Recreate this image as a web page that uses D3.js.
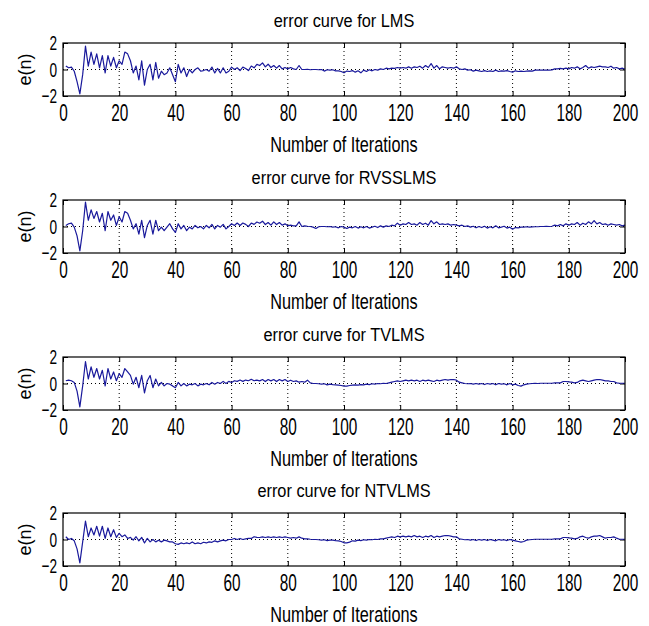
<!DOCTYPE html>
<html>
<head>
<meta charset="utf-8">
<script src="https://cdn.jsdelivr.net/npm/d3@7"></script>
<style>
  body { margin: 0; background: #fff; }
  svg { display: block; font-family: "Liberation Sans", Arial, sans-serif; }
</style>
</head>
<body>
<script>
// error values e(n), n = 1..200
var lmsErr = [0.26,0.13,0.18,-0.13,-0.92,-1.84,-0.39,1.76,0.26,1.32,0.39,1.18,0.13,1.05,-0.26,1.05,0.26,0.92,0.13,0.66,
  0.39,1.32,1.18,0.66,-0.26,0.26,-0.79,0.66,-1.18,0.0,0.39,-0.79,0.53,-0.66,-0.13,-0.39,-0.26,0.13,-0.39,-0.92,
  0.39,-0.26,0.13,-0.53,0.0,-0.26,0.0,0.13,-0.13,-0.08,0.0,-0.13,0.18,-0.26,0.08,-0.26,0.13,-0.26,-0.13,0.18,
  0.0,0.13,-0.08,0.18,0.08,-0.08,0.26,0.13,0.39,0.3,0.5,0.2,0.4,0.15,0.3,0.1,0.3,0.05,0.15,0.05,
  0.15,0.05,0.0,0.3,0.0,0.0,0.02,-0.02,0.0,0.0,-0.02,0.0,-0.12,-0.02,-0.05,-0.02,-0.1,-0.1,-0.15,-0.25,
  -0.12,-0.15,-0.08,-0.2,-0.1,-0.25,-0.05,-0.15,-0.02,-0.1,0.0,-0.05,0.05,0.0,0.1,0.05,0.1,0.08,0.15,0.1,
  0.15,0.1,0.2,0.1,0.2,0.15,0.25,0.1,0.3,0.15,0.45,0.1,0.3,0.05,0.2,0.15,0.1,0.15,0.1,0.2,
  0.05,0.0,0.05,-0.05,-0.02,-0.12,-0.05,-0.1,-0.15,-0.08,-0.15,-0.1,-0.15,-0.05,-0.15,-0.1,-0.12,-0.08,-0.15,-0.2,
  -0.1,-0.15,-0.12,-0.15,-0.12,-0.1,-0.12,-0.05,-0.05,-0.05,-0.05,-0.04,-0.04,-0.03,0.05,0.05,0.08,0.05,0.1,0.05,
  0.15,0.1,0.2,0.05,0.15,0.3,0.1,0.2,0.15,0.2,0.25,0.2,0.2,0.15,0.25,0.1,0.15,0.05,0.1,0.02];

var rvsslmsErr = [0.08,0.21,0.26,-0.05,-0.71,-1.84,-0.32,1.84,0.47,1.26,0.61,1.13,0.34,1.0,-0.32,1.13,0.47,0.87,0.08,0.74,
  0.34,1.13,1.0,0.47,-0.18,0.21,-0.58,0.47,-0.84,0.08,0.47,-0.58,0.47,-0.32,-0.05,-0.32,-0.05,0.21,-0.18,-0.45,
  0.21,-0.18,0.08,-0.32,-0.05,-0.18,0.08,-0.1,0.0,-0.18,0.08,-0.1,0.16,-0.18,0.08,-0.05,0.16,-0.18,0.0,0.21,
  0.08,0.26,0.08,0.26,0.16,0.0,0.26,0.16,0.34,0.25,0.4,0.15,0.3,0.1,0.35,0.15,0.3,0.1,0.2,0.05,
  0.1,0.05,0.05,0.35,0.0,0.05,0.02,0.0,-0.05,-0.15,-0.02,0.0,0.0,-0.02,0.0,-0.05,-0.02,-0.1,0.0,-0.05,
  -0.15,-0.05,-0.1,0.0,-0.12,-0.02,-0.1,0.0,-0.12,-0.05,0.02,-0.08,0.05,-0.05,0.05,0.0,0.1,0.05,0.25,0.1,
  0.2,0.15,0.3,0.15,0.2,0.1,0.3,0.15,0.25,0.1,0.45,0.2,0.35,0.15,0.2,0.15,0.2,0.1,0.15,0.1,
  0.05,0.1,0.0,0.05,-0.05,0.02,-0.1,0.0,-0.08,0.02,-0.12,-0.02,-0.1,0.05,-0.1,-0.05,0.02,-0.12,-0.05,-0.2,
  -0.08,-0.1,-0.05,-0.05,-0.02,-0.05,-0.03,-0.02,-0.02,0.0,0.0,0.02,0.0,0.02,0.1,0.05,0.15,0.05,0.2,0.1,
  0.2,0.15,0.3,0.1,0.25,0.15,0.35,0.2,0.45,0.2,0.3,0.15,0.2,0.1,0.2,0.15,0.1,0.15,0.05,0.1];

var tvlmsErr = [0.21,0.26,0.21,0.08,-0.58,-1.76,-0.18,1.66,0.34,1.26,0.47,1.13,0.34,1.0,-0.18,1.13,0.34,0.87,0.21,0.74,
  0.47,1.13,0.87,0.61,-0.05,0.47,-0.32,0.61,-0.71,0.21,0.61,-0.32,0.34,-0.18,0.08,-0.18,0.0,-0.05,-0.18,-0.32,
  0.08,-0.18,0.0,-0.18,-0.05,-0.1,0.0,-0.18,-0.05,-0.1,0.0,-0.1,0.08,-0.05,0.08,0.0,0.16,0.0,0.16,0.08,
  0.21,0.16,0.26,0.16,0.26,0.21,0.32,0.21,0.26,0.2,0.3,0.15,0.3,0.2,0.3,0.15,0.3,0.2,0.3,0.15,
  0.25,0.15,0.2,0.1,0.15,0.1,0.25,0.05,0.0,0.0,-0.02,-0.05,-0.02,-0.1,-0.05,-0.08,-0.1,-0.12,-0.15,-0.2,
  -0.2,-0.15,-0.12,-0.1,-0.12,-0.08,-0.1,-0.05,-0.08,-0.02,-0.05,0.0,-0.02,0.02,0.0,0.05,0.1,0.15,0.2,0.15,
  0.2,0.25,0.2,0.25,0.2,0.25,0.15,0.25,0.2,0.25,0.2,0.15,0.25,0.2,0.25,0.3,0.25,0.3,0.3,0.25,
  0.1,0.05,0.0,-0.02,0.0,-0.05,0.0,-0.05,0.0,-0.08,0.0,-0.05,0.0,-0.1,0.0,-0.05,-0.02,-0.1,0.0,-0.1,
  -0.05,-0.15,-0.2,-0.1,-0.05,-0.02,0.0,0.02,0.0,0.02,0.02,0.02,0.02,0.02,0.05,0.05,0.05,0.15,0.15,0.12,
  0.1,0.05,0.08,0.2,0.25,0.2,0.15,0.2,0.25,0.3,0.3,0.25,0.2,0.2,0.15,0.15,0.05,0.02,0.02,0.02];

var ntvlmsErr = [0.21,0.0,0.08,-0.1,-0.71,-1.76,-0.18,1.39,0.21,0.87,0.34,1.0,0.26,1.0,0.08,0.87,0.21,0.74,0.16,0.47,
  0.21,0.34,0.08,0.16,-0.05,0.21,-0.1,0.16,-0.26,0.08,-0.18,0.0,-0.18,-0.05,-0.18,-0.05,-0.1,-0.18,-0.18,-0.32,
  -0.37,-0.26,-0.32,-0.26,-0.32,-0.18,-0.32,-0.26,-0.32,-0.21,-0.26,-0.18,-0.21,-0.1,-0.18,-0.1,-0.05,-0.1,0.0,0.0,
  0.08,0.0,0.08,0.0,0.05,0.08,0.08,0.21,0.16,0.15,0.2,0.15,0.2,0.15,0.2,0.15,0.2,0.15,0.2,0.15,
  0.1,0.15,0.1,0.2,0.1,0.05,0.05,0.02,0.0,0.0,-0.02,-0.05,-0.02,-0.08,-0.05,-0.05,-0.08,-0.1,-0.15,-0.25,
  -0.25,-0.2,-0.1,-0.12,-0.05,-0.08,-0.02,-0.05,0.0,-0.02,0.02,0.0,0.05,0.05,0.1,0.15,0.2,0.15,0.25,0.2,
  0.25,0.2,0.25,0.2,0.3,0.2,0.25,0.15,0.25,0.2,0.3,0.15,0.25,0.2,0.25,0.3,0.3,0.25,0.2,0.2,
  0.05,0.02,-0.02,0.0,-0.05,0.0,-0.08,0.0,-0.05,0.0,-0.08,0.0,-0.05,-0.1,0.0,-0.05,-0.02,-0.08,0.0,-0.05,
  -0.1,-0.15,-0.2,-0.15,-0.05,-0.02,0.0,0.02,0.02,0.02,0.02,0.02,0.02,0.02,0.05,0.05,0.05,0.15,0.15,0.12,
  0.1,0.05,0.08,0.2,0.25,0.15,0.1,0.2,0.25,0.25,0.3,0.2,0.1,0.15,0.15,0.2,0.1,0.02,0.02,0.02];

var titles = ["error curve for LMS", "error curve for RVSSLMS", "error curve for TVLMS", "error curve for NTVLMS"];
var series = [lmsErr, rvsslmsErr, tvlmsErr, ntvlmsErr];
var xTicks = [0, 20, 40, 60, 80, 100, 120, 140, 160, 180, 200];
var yTicks = [-2, 0, 2];
var xLabel = "Number of Iterations";
var yLabel = "e(n)";

var w = 649, h = 626;
var left = 63, right = 625, boxH = 53;
var tops = [43, 200, 357, 513];

var svg = d3.select("body").append("svg")
  .attr("width", w)
  .attr("height", h);

var xScale = d3.scaleLinear().domain([0, 200]).range([left, right]);

series.forEach(function(vals, i) {
  var top = tops[i];
  var bottom = top + boxH;
  var yScale = d3.scaleLinear().domain([-2, 2]).range([bottom, top]);
  var g = svg.append("g");

  // dotted grid
  g.selectAll(".vgrid")
    .data(xTicks.slice(1, -1))
    .enter().append("line")
    .attr("x1", function(d) { return xScale(d); })
    .attr("x2", function(d) { return xScale(d); })
    .attr("y1", top).attr("y2", bottom)
    .attr("stroke", "#000").attr("stroke-width", 1)
    .attr("stroke-dasharray", "1,3");
  g.append("line")
    .attr("x1", left).attr("x2", right)
    .attr("y1", yScale(0)).attr("y2", yScale(0))
    .attr("stroke", "#000").attr("stroke-width", 1)
    .attr("stroke-dasharray", "1,3");

  // axes with inward ticks
  var xAxis = d3.axisBottom(xScale).tickValues(xTicks).tickSize(-5).tickPadding(8);
  var ax = g.append("g")
    .attr("transform", "translate(0," + bottom + ")")
    .call(xAxis);
  ax.select(".domain").remove();
  ax.selectAll("text")
    .attr("font-size", 24).attr("fill", "#000")
    .attr("font-family", "Liberation Sans, Arial, sans-serif")
    .attr("transform", "scale(0.64,1)");

  var topAxis = g.append("g")
    .attr("transform", "translate(0," + top + ")")
    .call(d3.axisTop(xScale).tickValues(xTicks).tickSize(-5).tickFormat(""));
  topAxis.select(".domain").remove();

  var yAxis = d3.axisLeft(yScale).tickValues(yTicks).tickSize(-5).tickPadding(9)
    .tickFormat(d3.format("d"));
  var ay = g.append("g")
    .attr("transform", "translate(" + left + ",0)")
    .call(yAxis);
  ay.select(".domain").remove();
  ay.selectAll("text")
    .attr("font-size", 21).attr("fill", "#000")
    .attr("font-family", "Liberation Sans, Arial, sans-serif")
    .attr("transform", "scale(0.65,1)");

  var rightAxis = g.append("g")
    .attr("transform", "translate(" + right + ",0)")
    .call(d3.axisRight(yScale).tickValues(yTicks).tickSize(-5).tickFormat(""));
  rightAxis.select(".domain").remove();

  // error curve
  var line = d3.line()
    .x(function(d, k) { return xScale(k + 1); })
    .y(function(d) { return yScale(d); });
  g.append("path")
    .datum(vals)
    .attr("d", line)
    .attr("fill", "none")
    .attr("stroke", "#1a1a9c")
    .attr("stroke-width", 1.2)
    .attr("stroke-linejoin", "round");

  // box
  g.append("rect")
    .attr("x", left).attr("y", top)
    .attr("width", right - left).attr("height", boxH)
    .attr("fill", "none").attr("stroke", "#000").attr("stroke-width", 1.2);

  // title
  g.append("text")
    .attr("transform", "translate(" + (left + right) / 2 + "," + (top - 16) + ") scale(0.86,1)")
    .attr("text-anchor", "middle")
    .attr("font-size", 19)
    .text(titles[i]);

  // x label
  g.append("text")
    .attr("transform", "translate(" + (left + right) / 2 + "," + (bottom + 56) + ") scale(0.74,1)")
    .attr("text-anchor", "middle")
    .attr("font-size", 22)
    .text(xLabel);

  // y label
  g.append("text")
    .attr("transform", "translate(31," + (top + bottom) / 2 + ") rotate(-90)")
    .attr("text-anchor", "middle")
    .attr("font-size", 18)
    .text(yLabel);
});
</script>
</body>
</html>
